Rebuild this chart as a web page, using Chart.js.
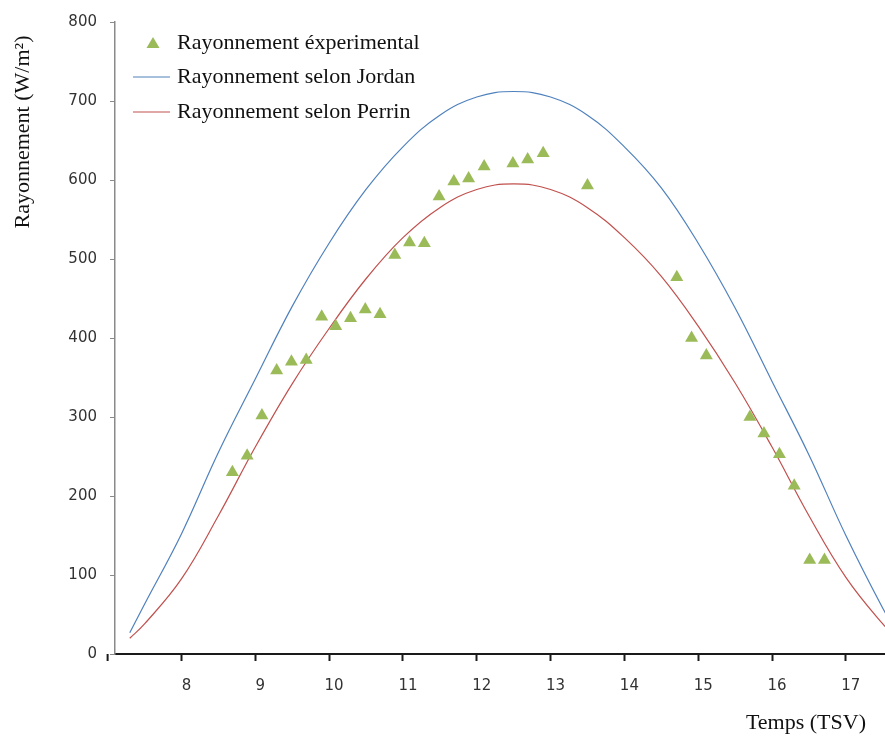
<!DOCTYPE html>
<html>
<head>
<meta charset="utf-8">
<script src="https://cdn.jsdelivr.net/npm/chart.js@4/dist/chart.umd.min.js"></script>
<style>
html,body{margin:0;padding:0;background:#fff;}
#wrap{position:relative;width:885px;height:738px;}
</style>
</head>
<body>
<div id="wrap"><canvas id="c" width="885" height="738"></canvas></div>
<script>
// ---- data ----
const seriesLabels = ["Rayonnement éxperimental", "Rayonnement selon Jordan", "Rayonnement selon Perrin"];
const xTitle = "Temps (TSV)";
const yTitle = "Rayonnement (W/m²)";
const xTickValues = [8, 9, 10, 11, 12, 13, 14, 15, 16, 17];
const yTickStep = 100;

const expHours = [8.69, 8.89, 9.09, 9.29, 9.49, 9.69, 9.90, 10.09, 10.29, 10.49, 10.69, 10.89, 11.09, 11.29, 11.49, 11.69, 11.89, 12.10, 12.49, 12.69, 12.90, 13.50, 14.71, 14.91, 15.11, 15.70, 15.89, 16.10, 16.30, 16.51, 16.71];
const expValues = [230, 251, 302, 359, 370, 372, 427, 415, 425, 436, 430, 505, 521, 520, 579, 598, 602, 617, 621, 626, 634, 593, 477, 400, 378, 300, 279, 253, 213, 119, 119];

const modelHours = [7.3, 7.5, 8, 8.5, 9, 9.5, 10, 10.5, 11, 11.5, 12, 12.5, 13, 13.5, 14, 14.5, 15, 15.5, 16, 16.5, 17, 17.5, 17.7];
const jordanValues = [27, 63, 152, 255, 348, 440, 520, 588, 642, 682, 705, 712, 705, 682, 642, 590, 520, 438, 345, 252, 150, 58, 27];
const perrinValues = [20, 38, 95, 175, 262, 342, 412, 475, 527, 565, 588, 595, 588, 565, 527, 478, 415, 343, 262, 175, 97, 38, 20];

// ---- build ----
const pts = (xs, ys) => xs.map((x, i) => ({x: x, y: ys[i]}));
const GREEN = '#9BBB59', BLUE = '#4F81BD', RED = '#C0504D';
const SERIF = '"Liberation Serif", "Times New Roman", serif';

const overlay = {
  id: 'overlay',
  afterDraw(chart) {
    const ctx = chart.ctx;
    const xs = chart.scales.x;
    ctx.save();
    // extra tick at x = 7 outside the plot, as in the original
    const x7 = xs.getPixelForValue(7);
    ctx.strokeStyle = '#1a1a1a';
    ctx.lineWidth = 2;
    ctx.beginPath(); ctx.moveTo(x7, xs.top); ctx.lineTo(x7, xs.top + 7); ctx.stroke();

    ctx.textBaseline = 'middle';
    ctx.font = '22px ' + SERIF;
    // legend
    const rows = [43, 77, 112];
    const tx = 177;
    ctx.fillStyle = GREEN;
    ctx.beginPath();
    ctx.moveTo(153, rows[0] - 6);
    ctx.lineTo(159.5, rows[0] + 5);
    ctx.lineTo(146.5, rows[0] + 5);
    ctx.closePath();
    ctx.fill();
    ctx.lineWidth = 1.2;
    ctx.strokeStyle = BLUE;
    ctx.beginPath(); ctx.moveTo(133, rows[1]); ctx.lineTo(170, rows[1]); ctx.stroke();
    ctx.strokeStyle = RED;
    ctx.beginPath(); ctx.moveTo(133, rows[2]); ctx.lineTo(170, rows[2]); ctx.stroke();
    ctx.fillStyle = '#111';
    ctx.textAlign = 'left';
    seriesLabels.forEach((s, i) => ctx.fillText(s, tx, rows[i]));
    // x title
    ctx.textAlign = 'right';
    ctx.fillText(xTitle, 866, 723);
    // y title
    ctx.translate(23, 132);
    ctx.rotate(-Math.PI / 2);
    ctx.textAlign = 'center';
    ctx.fillText(yTitle, 0, 0);
    ctx.restore();
  }
};

new Chart(document.getElementById('c'), {
  type: 'scatter',
  data: {
    datasets: [
      {
        label: seriesLabels[0],
        data: pts(expHours, expValues),
        pointStyle: 'triangle',
        pointRadius: 7.5,
        pointBackgroundColor: GREEN,
        pointBorderColor: GREEN,
        pointBorderWidth: 0,
        showLine: false,
        order: 0
      },
      {
        label: seriesLabels[1],
        data: pts(modelHours, jordanValues),
        showLine: true,
        borderColor: BLUE,
        borderWidth: 1.2,
        pointRadius: 0,
        tension: 0.4,
        fill: false,
        order: 1
      },
      {
        label: seriesLabels[2],
        data: pts(modelHours, perrinValues),
        showLine: true,
        borderColor: RED,
        borderWidth: 1.2,
        pointRadius: 0,
        tension: 0.4,
        fill: false,
        order: 2
      }
    ]
  },
  options: {
    responsive: false,
    animation: false,
    layout: { autoPadding: false, padding: { top: 20, right: 0, left: 0, bottom: 0 } },
    plugins: { legend: { display: false }, tooltip: { enabled: false } },
    scales: {
      x: {
        type: 'linear',
        min: 7.1,
        max: 17.53,
        afterBuildTicks: (scale) => { scale.ticks = xTickValues.map(v => ({ value: v })); },
        afterFit: (scale) => { scale.height = 84; scale.paddingRight = 0; scale.paddingLeft = 0; },
        border: { color: '#1a1a1a', width: 2 },
        grid: { drawOnChartArea: false, tickLength: 7, color: '#1a1a1a', tickWidth: 2 },
        ticks: { color: '#333', padding: 16, labelOffset: 5, font: { family: '"DejaVu Sans"', size: 15 }, maxRotation: 0, autoSkip: false }
      },
      y: {
        min: 0,
        max: 800,
        afterFit: (scale) => { scale.width = 115; },
        border: { color: '#8a8a8a', width: 1.5 },
        grid: { drawOnChartArea: false, tickLength: 5, color: '#8a8a8a' },
        ticks: { stepSize: yTickStep, color: '#333', padding: 13, font: { family: '"DejaVu Sans"', size: 15 } }
      }
    }
  },
  plugins: [overlay]
});
</script>
</body>
</html>
